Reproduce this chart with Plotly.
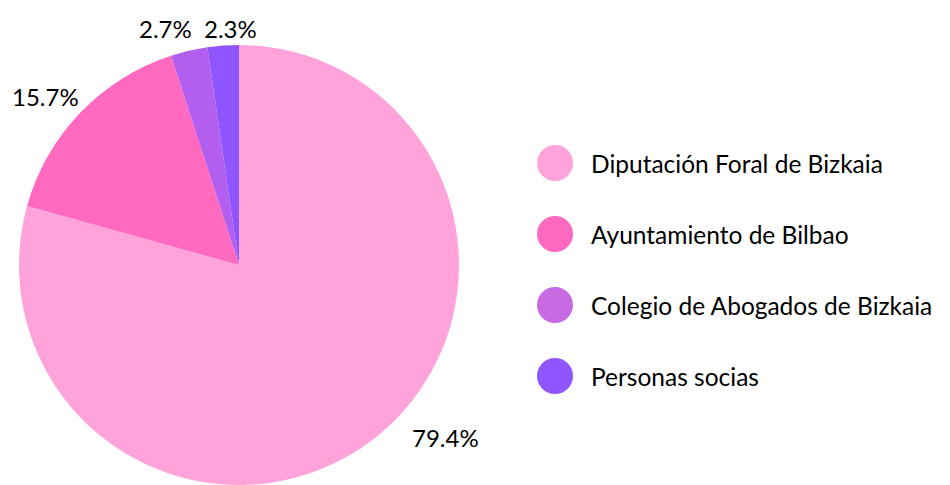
import plotly.graph_objects as go

labels = ["Diputación Foral de Bizkaia", "Ayuntamiento de Bilbao",
          "Colegio de Abogados de Bizkaia", "Personas socias"]
values = [79.4, 15.7, 2.7, 2.3]
slice_colors = ["#FFA3DA", "#FF69C0", "#B25FEF", "#8F55FF"]
legend_colors = ["#FFA3DA", "#FF69C0", "#C86AE3", "#8F55FF"]
pct_text = [f"{v:.1f}%" for v in values]
# pixel centres of the percentage labels (layout)
pct_pos = [(445, 437), (45, 97), (165, 28), (230, 28)]

W, H = 950, 485
FONT = "Lato, Open Sans, sans-serif"

fig = go.Figure()
fig.add_trace(go.Pie(
    labels=labels, values=values, text=pct_text,
    textinfo="none",
    marker=dict(colors=slice_colors, line=dict(width=0)),
    sort=False, direction="clockwise", rotation=0,
    domain=dict(x=[19 / W, 459 / W], y=[0, 1 - 45 / H]),
    showlegend=False, hoverinfo="label+percent",
))

shapes = []
annotations = []
for t, (px, py) in zip(pct_text, pct_pos):
    annotations.append(dict(x=px / W, y=1 - py / H, xref="paper", yref="paper",
                            text=t, showarrow=False, xanchor="center", yanchor="middle",
                            font=dict(size=24, color="#000000", family=FONT)))

legend_y0 = 163
step = 71
r = 18
cx = 555
for i, (lab, col) in enumerate(zip(labels, legend_colors)):
    cy = legend_y0 + i * step
    shapes.append(dict(type="circle", xref="paper", yref="paper",
                       x0=(cx - r) / W, x1=(cx + r) / W,
                       y0=1 - (cy + r) / H, y1=1 - (cy - r) / H,
                       fillcolor=col, line=dict(width=0)))
    annotations.append(dict(x=589 / W, y=1 - cy / H, xref="paper", yref="paper",
                            text=lab, showarrow=False, xanchor="left", yanchor="middle",
                            font=dict(size=24.5, color="#000000", family=FONT)))

fig.update_layout(
    width=W, height=H, margin=dict(l=0, r=0, t=0, b=0),
    paper_bgcolor="white", plot_bgcolor="white",
    shapes=shapes, annotations=annotations,
)
fig.write_html("out.html", config={"displayModeBar": False},
               post_script="document.body.style.margin='0';")
